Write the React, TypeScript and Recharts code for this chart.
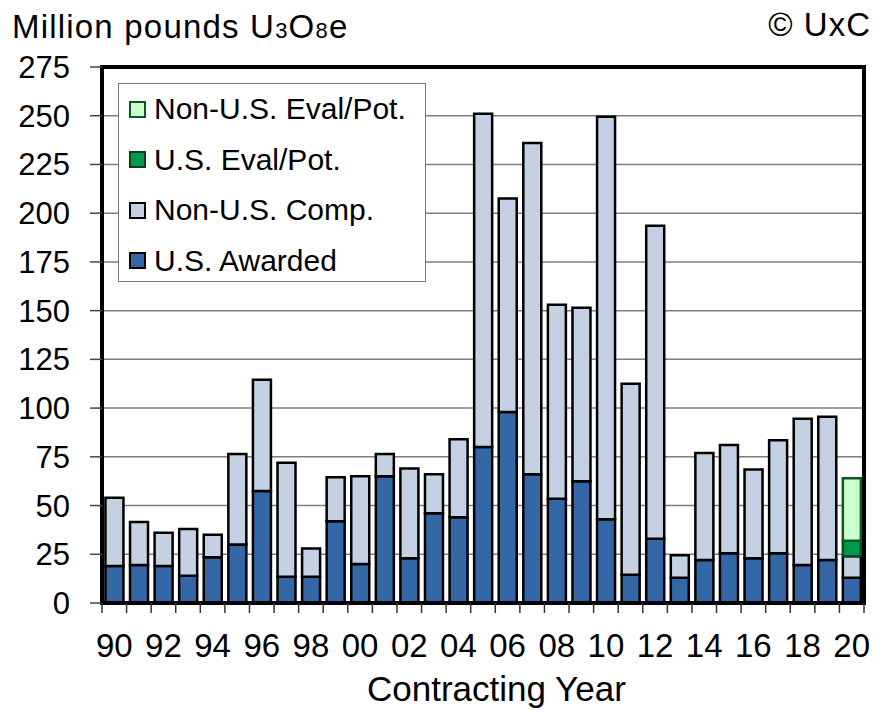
import React from 'react'
import {BarChart, Bar, CartesianGrid, ReferenceArea, XAxis, YAxis} from 'recharts'

const years = ['90', '91', '92', '93', '94', '95', '96', '97', '98', '99', '00', '01', '02', '03', '04', '05',
  '06', '07', '08', '09', '10', '11', '12', '13', '14', '15', '16', '17', '18', '19', '20']

const usAwarded = [19, 19.5, 19, 14, 23.5, 30, 57.5, 13.5, 13.5, 42, 20, 65, 23, 46, 44, 80,
  98, 66, 53.5, 62.5, 43, 14.5, 33, 13, 22, 25.5, 23, 25.5, 19.5, 22, 13]
const nonUsComp = [35, 22, 17, 24, 11.5, 46.5, 57, 58.5, 14.5, 22.5, 45, 11.5, 46, 20, 40, 171,
  109.5, 170, 99.5, 89, 206.5, 98, 160.5, 11.5, 55, 55.5, 45.5, 58, 75, 73.5, 11]
const usEval = [0, 0, 0, 0, 0, 0, 0, 0, 0, 0, 0, 0, 0, 0, 0, 0,
  0, 0, 0, 0, 0, 0, 0, 0, 0, 0, 0, 0, 0, 0, 8]
const nonUsEval = [0, 0, 0, 0, 0, 0, 0, 0, 0, 0, 0, 0, 0, 0, 0, 0,
  0, 0, 0, 0, 0, 0, 0, 0, 0, 0, 0, 0, 0, 0, 32]

const yTicks = [0, 25, 50, 75, 100, 125, 150, 175, 200, 225, 250, 275]

const data = years.map((year, i) => ({
  year,
  usAwarded: usAwarded[i],
  nonUsComp: nonUsComp[i],
  usEval: usEval[i],
  nonUsEval: nonUsEval[i],
}))

const FONT = '"Liberation Sans", Arial, sans-serif'

const legendItems = [
  {label: 'Non-U.S. Eval/Pot.', fill: '#ccffcc', stroke: '#0a5a24'},
  {label: 'U.S. Eval/Pot.', fill: '#009a4e', stroke: '#06401c'},
  {label: 'Non-U.S. Comp.', fill: '#c3d1e3', stroke: '#000'},
  {label: 'U.S. Awarded', fill: '#3467a6', stroke: '#000'},
]

// legend drawn as an overlay box in the upper left of the plot
const LegendBox = () => (
  <div style={{position: 'absolute', left: 118, top: 83, width: 306, height: 197, border: '1.5px solid #7a7a7a',
    background: '#fff', fontFamily: FONT, zIndex: 2}}>
    {legendItems.map((it, i) => (
      <div key={it.label} style={{position: 'absolute', left: 10, top: 10 + i * 50.5, height: 30, display: 'flex', alignItems: 'center'}}>
        <span style={{display: 'inline-block', width: 13, height: 13, background: it.fill, border: `2px solid ${it.stroke}`, marginRight: 8}}/>
        <span style={{fontSize: 30, color: '#000', lineHeight: '30px', whiteSpace: 'nowrap'}}>{it.label}</span>
      </div>
    ))}
  </div>
)

// tick marks sit on the category boundaries, labels every other year
const YearTick = (props: any) => {
  const {x, y, payload, index} = props
  const half = payload && payload.offset ? payload.offset : 762 / years.length / 2
  const last = index === years.length - 1
  return (
    <g>
      <line x1={x - half} x2={x - half} y1={y} y2={y + 10} stroke="#333" strokeWidth={1.5}/>
      {last && <line x1={x + half} x2={x + half} y1={y} y2={y + 10} stroke="#333" strokeWidth={1.5}/>}
      {index % 2 === 0 && (
        <text x={x} y={y + 54} textAnchor="middle" fontSize={33} fill="#000" fontFamily={FONT}>{payload.value}</text>
      )}
    </g>
  )
}

const App = () => {
  return (
    <div style={{position: 'absolute', left: 0, top: 0, width: 887, height: 715, background: '#fff', fontFamily: FONT}}>
      <div style={{position: 'absolute', left: 12, top: 10, fontSize: 33, letterSpacing: 1.2, lineHeight: 1, color: '#000', whiteSpace: 'nowrap'}}>
        Million pounds U<span style={{fontSize: 22}}>3</span>O<span style={{fontSize: 22}}>8</span>e
      </div>
      <div style={{position: 'absolute', right: 16, top: 8, fontSize: 33, letterSpacing: 1, lineHeight: 1, color: '#000'}}>© UxC</div>
      <div style={{position: 'absolute', left: 367, top: 671, fontSize: 35, lineHeight: 1, color: '#000', whiteSpace: 'nowrap'}}>
        Contracting Year
      </div>
      <LegendBox/>
      <BarChart width={887} height={715} data={data} margin={{top: 67, right: 23, bottom: 0, left: 0}}
                barCategoryGap="14%">
        <CartesianGrid horizontal vertical={false} stroke="#7f7f7f" strokeWidth={1.5}/>
        <XAxis dataKey="year" interval={0} height={112} tickLine={false} tickSize={0} tickMargin={0}
               axisLine={{stroke: '#000', strokeWidth: 4}} tick={<YearTick/>}/>
        <YAxis domain={[0, 275]} ticks={yTicks} width={102} tickSize={12} tickMargin={20}
               tickLine={{stroke: '#444', strokeWidth: 1.5}} axisLine={{stroke: '#000', strokeWidth: 4}}
               tick={{fontSize: 31, fill: '#000', fontFamily: FONT}} interval={0}/>
        <Bar dataKey="usAwarded" stackId="a" fill="#3467a6" stroke="#000" strokeWidth={2.5} isAnimationActive={false}/>
        <Bar dataKey="nonUsComp" stackId="a" fill="#c3d1e3" stroke="#000" strokeWidth={2.5} isAnimationActive={false}/>
        <Bar dataKey="usEval" stackId="a" fill="#009a4e" stroke="#0a4a20" strokeWidth={2.5} isAnimationActive={false}/>
        <Bar dataKey="nonUsEval" stackId="a" fill="#ccffcc" stroke="#0a5a24" strokeWidth={2.5} isAnimationActive={false}/>
        <ReferenceArea x1="90" x2="20" y1={0} y2={275} fill="none" fillOpacity={0} stroke="#000" strokeWidth={4}
                       ifOverflow="visible"/>
      </BarChart>
    </div>
  )
}

export default App
